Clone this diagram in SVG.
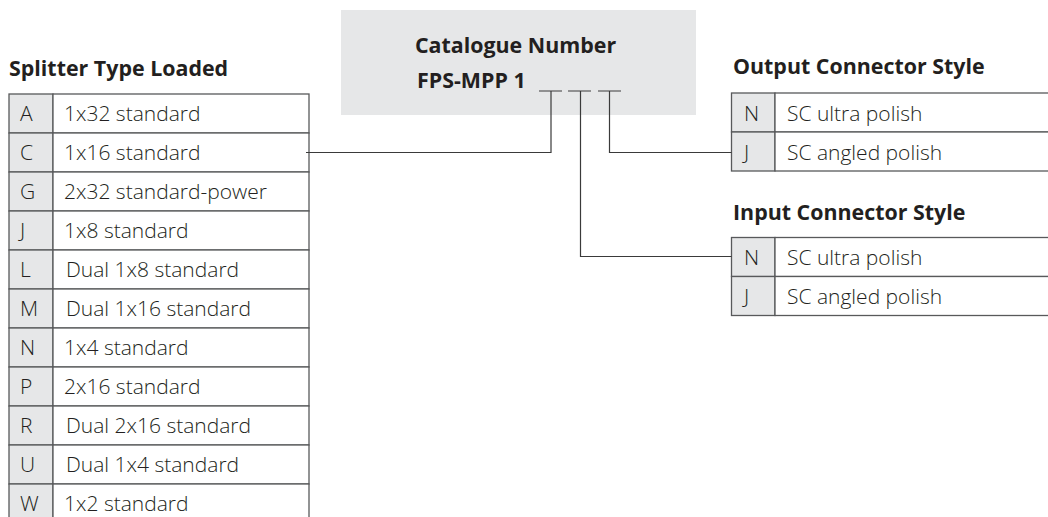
<svg xmlns="http://www.w3.org/2000/svg" width="1048" height="517" viewBox="0 0 1048 517">
<style>
.hdr{font-family:"Open Sans","Noto Sans",sans-serif;font-weight:700;font-size:21.4px;fill:#231f20}
.cell{font-family:"Open Sans","Noto Sans",sans-serif;font-weight:300;font-size:21px;fill:#231f20}
.key{fill:#e6e7e8;stroke:#58595b;stroke-width:1.3}
.val{fill:#ffffff;stroke:#58595b;stroke-width:1.3}
.conn{fill:none;stroke:#3a3a3a;stroke-width:1.2}
</style>
<rect width="1048" height="517" fill="#ffffff"/>
<g id="catalogue">
<rect x="341" y="10" width="355" height="105" fill="#e6e7e8"/>
<text class="hdr" x="515.5" y="52.7" text-anchor="middle">Catalogue Number</text>
<text class="hdr" x="417" y="88.3">FPS-MPP 1</text>
<path d="M539 91H562M568 91H591M598 91H621" stroke="#3a3a3a" stroke-width="1.2" fill="none"/>
</g>
<g id="splitter">
<text class="hdr" x="9" y="75.5">Splitter Type Loaded</text>
<g id="sp-A"><rect class="key" x="9" y="94" width="44" height="39"/><rect class="val" x="53" y="94" width="256" height="39"/><text class="cell" x="20" y="121">A</text><text class="cell" x="64" y="121">1x32 standard</text></g>
<g id="sp-C"><rect class="key" x="9" y="133" width="44" height="39"/><rect class="val" x="53" y="133" width="256" height="39"/><text class="cell" x="20" y="160">C</text><text class="cell" x="64" y="160">1x16 standard</text></g>
<g id="sp-G"><rect class="key" x="9" y="172" width="44" height="39"/><rect class="val" x="53" y="172" width="256" height="39"/><text class="cell" x="20" y="199">G</text><text class="cell" x="64" y="199">2x32 standard-power</text></g>
<g id="sp-J"><rect class="key" x="9" y="211" width="44" height="39"/><rect class="val" x="53" y="211" width="256" height="39"/><text class="cell" x="20" y="238">J</text><text class="cell" x="64" y="238">1x8 standard</text></g>
<g id="sp-L"><rect class="key" x="9" y="250" width="44" height="39"/><rect class="val" x="53" y="250" width="256" height="39"/><text class="cell" x="20" y="277">L</text><text class="cell" x="66" y="277">Dual 1x8 standard</text></g>
<g id="sp-M"><rect class="key" x="9" y="289" width="44" height="39"/><rect class="val" x="53" y="289" width="256" height="39"/><text class="cell" x="20" y="316">M</text><text class="cell" x="66" y="316">Dual 1x16 standard</text></g>
<g id="sp-N"><rect class="key" x="9" y="328" width="44" height="39"/><rect class="val" x="53" y="328" width="256" height="39"/><text class="cell" x="20" y="355">N</text><text class="cell" x="64" y="355">1x4 standard</text></g>
<g id="sp-P"><rect class="key" x="9" y="367" width="44" height="39"/><rect class="val" x="53" y="367" width="256" height="39"/><text class="cell" x="20" y="394">P</text><text class="cell" x="64" y="394">2x16 standard</text></g>
<g id="sp-R"><rect class="key" x="9" y="406" width="44" height="39"/><rect class="val" x="53" y="406" width="256" height="39"/><text class="cell" x="20" y="433">R</text><text class="cell" x="66" y="433">Dual 2x16 standard</text></g>
<g id="sp-U"><rect class="key" x="9" y="445" width="44" height="39"/><rect class="val" x="53" y="445" width="256" height="39"/><text class="cell" x="20" y="472">U</text><text class="cell" x="66" y="472">Dual 1x4 standard</text></g>
<g id="sp-W"><rect class="key" x="9" y="484" width="44" height="39"/><rect class="val" x="53" y="484" width="256" height="39"/><text class="cell" x="20" y="511">W</text><text class="cell" x="64" y="511">1x2 standard</text></g>
</g>
<g id="output">
<text class="hdr" x="733" y="74">Output Connector Style</text>
<g id="out-N"><rect class="key" x="731.5" y="93" width="43.5" height="39"/><rect class="val" x="775" y="93" width="280" height="39"/><text class="cell" x="744" y="121">N</text><text class="cell" x="787" y="121">SC ultra polish</text></g>
<g id="out-J"><rect class="key" x="731.5" y="132" width="43.5" height="39"/><rect class="val" x="775" y="132" width="280" height="39"/><text class="cell" x="744" y="160">J</text><text class="cell" x="787" y="160">SC angled polish</text></g>
</g>
<g id="input">
<text class="hdr" x="733" y="220">Input Connector Style</text>
<g id="in-N"><rect class="key" x="731.5" y="237.5" width="43.5" height="39"/><rect class="val" x="775" y="237.5" width="280" height="39"/><text class="cell" x="744" y="265">N</text><text class="cell" x="787" y="265">SC ultra polish</text></g>
<g id="in-J"><rect class="key" x="731.5" y="276.5" width="43.5" height="39"/><rect class="val" x="775" y="276.5" width="280" height="39"/><text class="cell" x="744" y="304">J</text><text class="cell" x="787" y="304">SC angled polish</text></g>
</g>
<g id="connectors">
<path class="conn" d="M551 91V152.5H306"/>
<path class="conn" d="M580.5 91V256.5H731.5"/>
<path class="conn" d="M609.5 91V152.5H731.5"/>
</g>
</svg>
